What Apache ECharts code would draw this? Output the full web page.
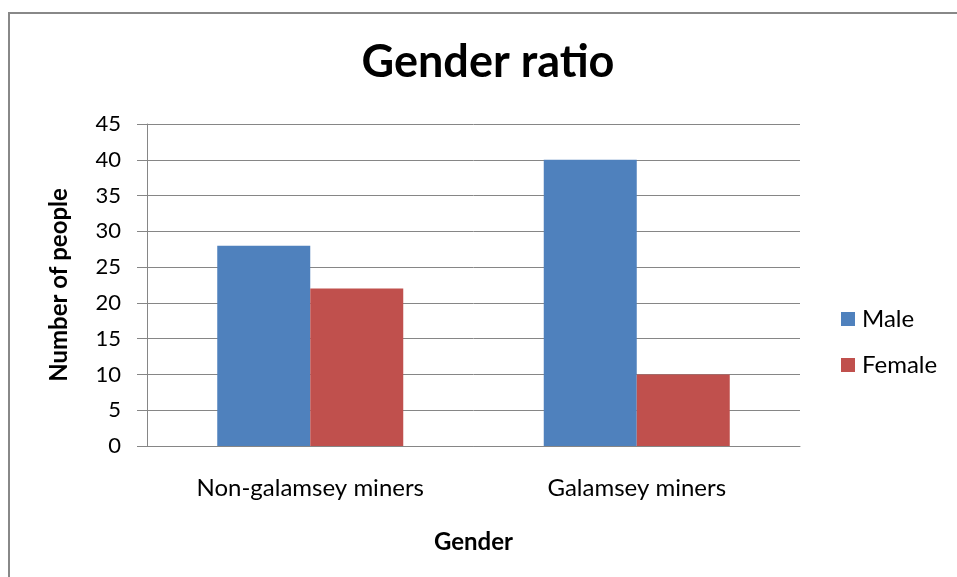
<!DOCTYPE html>
<html><head><meta charset="utf-8">
<script src="https://cdn.jsdelivr.net/npm/echarts@6/dist/echarts.min.js"></script>
<style>html,body{margin:0;padding:0;background:#fff}#c{width:957px;height:577px}</style>
</head><body><div id="c"></div>
<script>
const categories = ['Non-galamsey miners', 'Galamsey miners'];
const maleValues = [28, 40];
const femaleValues = [22, 10];
const yTicks = [0, 5, 10, 15, 20, 25, 30, 35, 40, 45];

const FONT = 'Lato';
const chart = echarts.init(document.getElementById('c'), null, {renderer: 'canvas'});
chart.setOption({
  animation: false,
  backgroundColor: '#fff',
  graphic: [{
    type: 'rect', shape: {x: 9, y: 13, width: 1000, height: 700},
    style: {fill: 'none', stroke: '#888', lineWidth: 2}, silent: true
  }],
  title: {
    text: 'Gender ratio', left: 483, top: 35, textAlign: 'center',
    textStyle: {fontFamily: FONT, fontWeight: 'bold', fontSize: 45, color: '#000'}
  },
  legend: {
    orient: 'vertical', left: 836, top: 302, itemGap: 22,
    itemWidth: 14, itemHeight: 14, icon: 'rect',
    textStyle: {fontFamily: FONT, fontSize: 24, color: '#000', padding: [0, 0, 0, 2]},
    data: ['Male', 'Female']
  },
  grid: {left: 147, right: 157, top: 124, bottom: 131, containLabel: false},
  xAxis: {
    type: 'category', data: categories,
    name: 'Gender', nameLocation: 'middle', nameGap: 84,
    nameTextStyle: {fontFamily: FONT, fontWeight: 'bold', fontSize: 24, color: '#000'},
    axisLine: {lineStyle: {color: '#868686', width: 1}},
    axisTick: {show: false},
    axisLabel: {fontFamily: FONT, fontSize: 24, color: '#000', margin: 30}
  },
  yAxis: {
    type: 'value', min: 0, max: 45, interval: 5,
    name: 'Number of people', nameLocation: 'middle', nameGap: 76,
    nameTextStyle: {fontFamily: FONT, fontWeight: 'bold', fontSize: 24, color: '#000'},
    axisLine: {show: true, lineStyle: {color: '#868686', width: 1}},
    axisTick: {show: true, length: 10, lineStyle: {color: '#868686'}},
    splitLine: {lineStyle: {color: '#868686', width: 1}},
    axisLabel: {fontFamily: FONT, fontSize: 22, color: '#000', margin: 26,
      formatter: v => yTicks.includes(v) ? String(v) : ''}
  },
  series: [
    {name: 'Male', type: 'bar', data: maleValues, barWidth: 93, barGap: '0%',
     itemStyle: {color: '#4F81BD'}},
    {name: 'Female', type: 'bar', data: femaleValues, barWidth: 93, barGap: '0%',
     itemStyle: {color: '#C0504D'}}
  ]
});
</script></body></html>
